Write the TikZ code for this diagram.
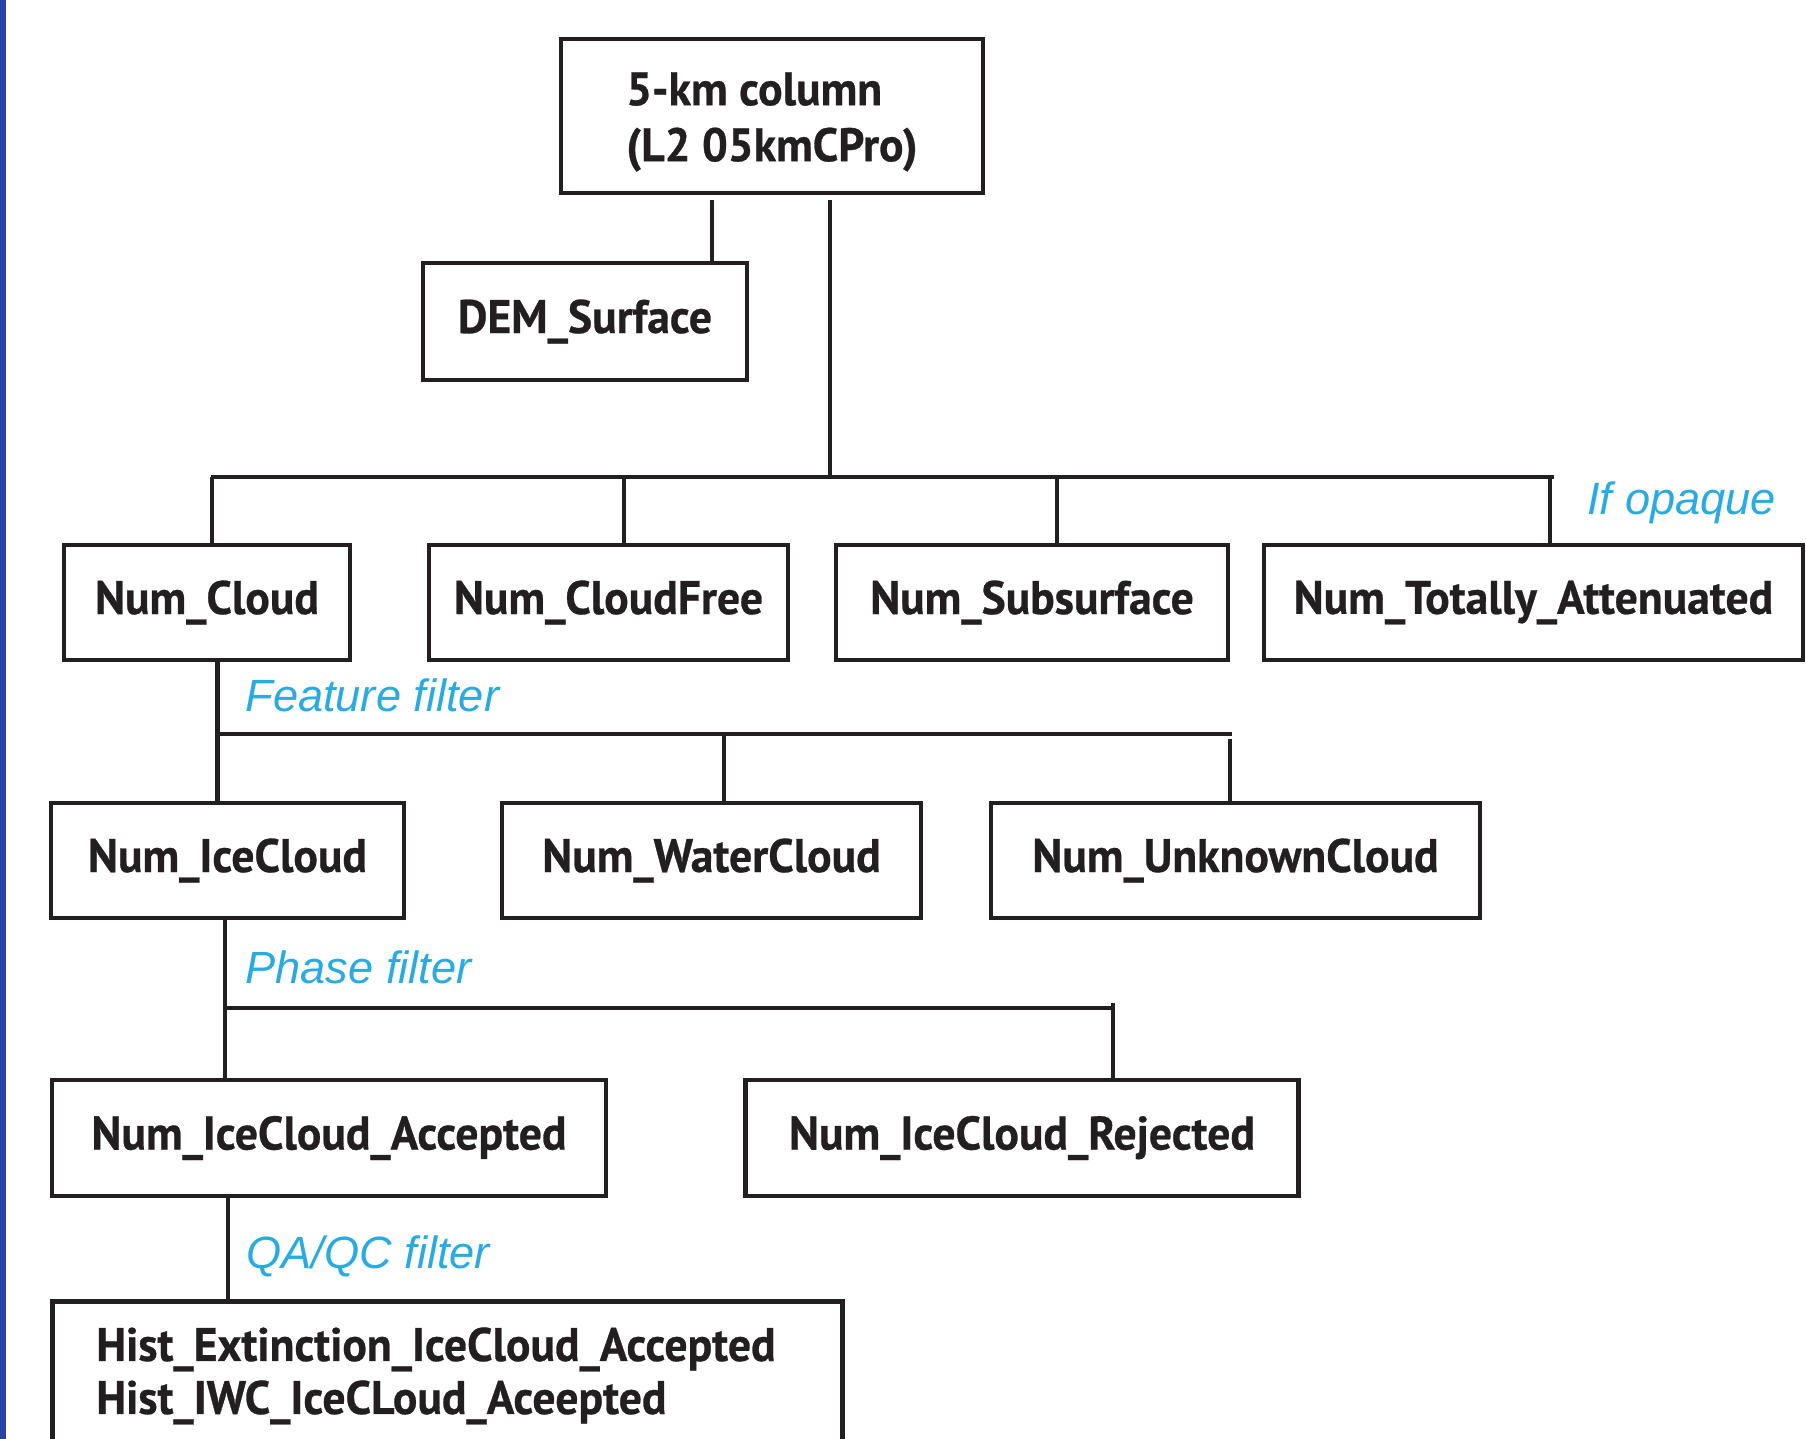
\documentclass[tikz,border=0pt]{standalone}
\usepackage{fontspec}
\setmainfont{PT Sans}[BoldFeatures={FakeStretch=0.97,FakeBold=0.6}]
\newfontfamily\labelfont{Liberation Sans}
\usetikzlibrary{calc}
\definecolor{ink}{HTML}{231F20}
\definecolor{cyanlab}{HTML}{29ABE2}
\definecolor{barblue}{RGB}{41,68,160}
\begin{document}
\begin{tikzpicture}[x=1pt,y=-1pt,
  box/.style={draw=ink, line width=2.3pt, text=ink, inner sep=0pt,
    font=\bfseries\fontsize{23.5}{28}\selectfont},
  boxtext/.style={text=ink, inner sep=0pt, font=\bfseries\fontsize{23.5}{26.5}\selectfont},
  conn/.style={draw=ink, line width=2.3pt},
  lab/.style={font=\labelfont\itshape\fontsize{22.6}{27}\selectfont, text=cyanlab, anchor=base west, inner sep=0pt}]
\useasboundingbox (0,0) rectangle (903,719.5);
\clip (0,0) rectangle (903,719.5);
\fill[barblue] (0,0) rectangle (3,719.5);

% boxes
\node[box, minimum width=211pt, minimum height=77pt] (top) at (386,58) {\raisebox{-3pt}[\height][\depth]{\begin{tabular}{@{}l@{}}5-km column\\(L2 05kmCPro)\end{tabular}}};
\node[box, minimum width=162pt, minimum height=58.5pt] (dem) at (292.5,160.75) {DEM\_Surface};
\node[box, minimum width=143pt, minimum height=57.5pt] (cloud) at (103.5,301.25) {Num\_Cloud};
\node[box, minimum width=179.5pt, minimum height=57.5pt] (cloudfree) at (304.25,301.25) {Num\_CloudFree};
\node[box, minimum width=196pt, minimum height=57.5pt] (sub) at (516,301.25) {Num\_Subsurface};
\node[box, minimum width=269.5pt, minimum height=57.5pt] (tot) at (766.75,301.25) {Num\_Totally\_Attenuated};
\node[box, minimum width=176.5pt, minimum height=57.5pt] (ice) at (113.75,430.25) {Num\_IceCloud};
\node[box, minimum width=209.5pt, minimum height=57.5pt] (water) at (355.75,430.25) {Num\_WaterCloud};
\node[box, minimum width=244.5pt, minimum height=57.5pt] (unknown) at (617.75,430.25) {Num\_UnknownCloud};
\node[box, minimum width=277pt, minimum height=58pt] (acc) at (164.5,569) {Num\_IceCloud\_Accepted};
\node[box, minimum width=276.5pt, minimum height=58pt] (rej) at (511,569) {Num\_IceCloud\_Rejected};
\node[box, anchor=north west, minimum width=395pt, minimum height=120pt] (hist) at (25,649.5) {};
\node[boxtext, anchor=north west, align=left] (histtext) at ($(hist.north west)+(23,14)$) {Hist\_Extinction\_IceCloud\_Accepted\\Hist\_IWC\_IceCLoud\_Aceepted};

% labels
\node[lab] (lopaque) at (793.5,257.5) {If opaque};
\node[lab] (lfeature) at (122.5,355.5) {Feature filter};
\node[lab] (lphase) at (122.5,491.5) {Phase filter};
\node[lab] (lqaqc) at (123,634) {QA/QC filter};

% connectors level 1
\coordinate (tl) at ($(top.south)+(-30,2.5)$);
\coordinate (tr) at ($(top.south)+(29,2.5)$);
\draw[conn] (tl) -- (tl |- dem.north);
\coordinate (bus1W) at (105.5,238.5);
\coordinate (bus1E) at (777,238.5);
\draw[conn] (tr) -- (tr |- bus1W);
\draw[conn] (bus1W) -- (bus1E);
\coordinate (d1) at ($(cloud.north)+(2.5,0)$);
\coordinate (d2) at ($(cloudfree.north)+(7.75,0)$);
\coordinate (d3) at ($(sub.north)+(12.5,0)$);
\coordinate (d4) at ($(tot.north)+(8.25,0)$);
\draw[conn] (d1) -- (d1 |- bus1W);
\draw[conn] (d2) -- (d2 |- bus1W);
\draw[conn] (d3) -- (d3 |- bus1W);
\draw[conn] (d4) -- (d4 |- bus1W);

% level 2
\coordinate (c2) at ($(cloud.south)+(5.25,0)$);
\coordinate (bus2E) at (616,367);
\draw[conn] (c2) -- (c2 |- ice.north);
\draw[conn] (c2 |- bus2E) -- (bus2E);
\coordinate (w2) at ($(water.north)+(6.25,0)$);
\coordinate (u2) at ($(unknown.north)+(-2.75,0)$);
\draw[conn] (w2) -- (w2 |- bus2E);
\draw[conn] (u2) -- ($(u2 |- bus2E)+(0,2.5)$);

% level 3
\coordinate (i3) at ($(ice.south)+(-1.25,0)$);
\coordinate (bus3E) at (556.5,504);
\draw[conn] (i3) -- (i3 |- acc.north);
\draw[conn] (i3 |- bus3E) -- (bus3E);
\coordinate (r3) at ($(rej.north)+(45.5,0)$);
\draw[conn] (r3) -- ($(r3 |- bus3E)+(0,-2.5)$);

% level 4
\coordinate (a4) at ($(acc.south)+(-50.5,0)$);
\draw[conn] (a4) -- (a4 |- hist.north);
\end{tikzpicture}
\end{document}
